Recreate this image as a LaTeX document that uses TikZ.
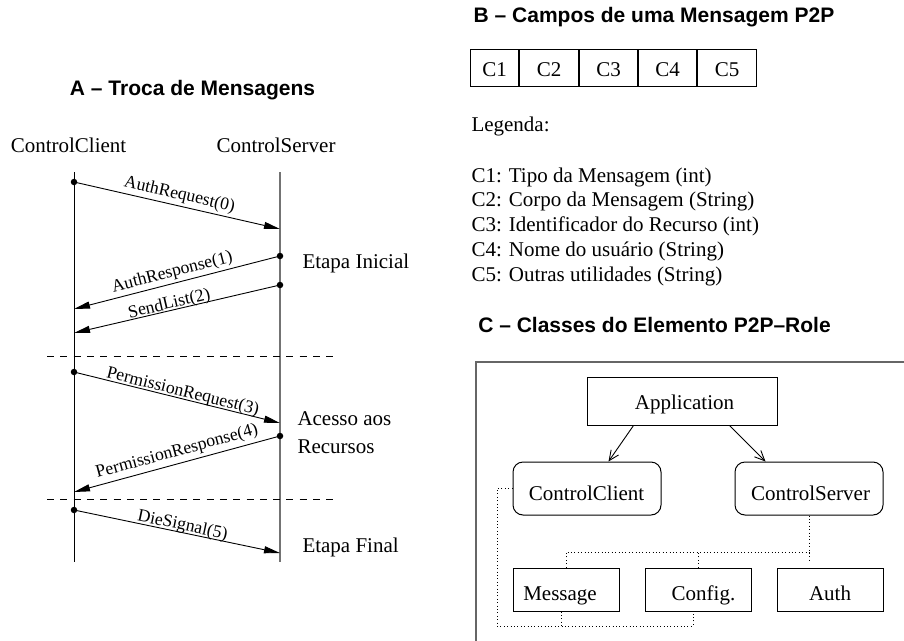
\documentclass[tikz,border=0pt]{standalone}
\usepackage{fontspec}
\setmainfont{Liberation Serif}
\newfontfamily\hv{Liberation Sans}
\usetikzlibrary{arrows.meta,calc}
\newcommand\mainsz{\fontsize{21pt}{25pt}\selectfont}
\newcommand\lblsz{\fontsize{17.7pt}{21pt}\selectfont}
\begin{document}
\begin{tikzpicture}[x=1pt,y=-1pt,line width=1pt,
  every node/.style={font=\mainsz, inner sep=0pt},
  ttl/.style={font=\hv\bfseries\mainsz},
  msg/.style={-{Triangle[length=16pt,width=7pt]}, line width=0.9pt},
  mlabel/.style={font=\lblsz, sloped, text depth=0pt, inner sep=0pt},
  sepline/.style={dash pattern=on 7pt off 6.3pt, line width=0.9pt},
  lifeserver/.style={draw=black!55, line width=1.6pt},
  dotc/.style={circle, fill, inner sep=0pt, minimum size=6.5pt},
  cell/.style={draw, minimum height=37.5pt, text height=16pt, text depth=0pt, anchor=west},
  cls/.style={draw, inner sep=0pt},
  rcls/.style={draw, rounded corners=10pt, inner sep=0pt},
  dep/.style={dash pattern=on 1pt off 2.4pt, line width=1pt},
  gen/.style={-{Straight Barb[length=10pt,width=9pt]}, line width=0.9pt},
  frame/.style={draw=black!60, line width=1.6pt}
]
\useasboundingbox (0,0) rectangle (904,640);

% ---------------- A ----------------
\node[ttl] (ta) at (192.5,90) {A – Troca de Mensagens};
\node (hc) at (68.5,145) {ControlClient};
\node (hs) at (276,145) {ControlServer};

\coordinate (c0) at (74,172);
\coordinate (c1) at (74,562);
\coordinate (s0) at (280,172);
\coordinate (s1) at (280,562);
\draw (c0) -- (c1);
\draw[lifeserver] (s0) -- (s1);

% messages
\node[dotc] (d0) at (74,182) {};
\coordinate (e0) at (280,229);
\draw[msg] (d0.center) -- node[mlabel, pos=0.5, above=6pt] {AuthRequest(0)} (e0);

\node[dotc] (d1) at (280,256) {};
\coordinate (e1) at (74,309);
\draw[msg] (d1.center) -- node[mlabel, pos=0.51, above=6pt] {AuthResponse(1)} (e1);

\node[dotc] (d2) at (280,285) {};
\coordinate (e2) at (74,333);
\draw[msg] (d2.center) -- node[mlabel, pos=0.53, above=1.5pt] {SendList(2)} (e2);

\coordinate (l1a) at (47,356);
\coordinate (l1b) at (337,356);
\draw[sepline] (l1a) -- (l1b);

\node[dotc] (d3) at (74,372) {};
\coordinate (e3) at (280,423);
\draw[msg] (d3.center) -- node[mlabel, pos=0.52, above=2pt] {PermissionRequest(3)} (e3);

\node[dotc] (d4) at (280,436) {};
\coordinate (e4) at (74,492);
\draw[msg] (d4.center) -- node[mlabel, pos=0.485, above=7pt] {PermissionResponse(4)} (e4);

\coordinate (l2a) at (47,499);
\coordinate (l2b) at (337,499);
\draw[sepline] (l2a) -- (l2b);

\node[dotc] (d5) at (74,510) {};
\coordinate (e5) at (280,553);
\draw[msg] (d5.center) -- node[mlabel, pos=0.52, above=2pt] {DieSignal(5)} (e5);

\node[anchor=west] (st1) at (302,263) {Etapa Inicial};
\node[anchor=west] (st2) at (297,419) {Acesso aos};
\node[anchor=west] (st3) at (297,447) {Recursos};
\node[anchor=west] (st4) at (302,547) {Etapa Final};

% ---------------- B ----------------
\node[ttl] (tb) at (654,17) {B – Campos de uma Mensagem P2P};
\node[cell, minimum width=48pt] (f1) at (470,68) {C1};
\node[cell, minimum width=59pt] (f2) at (f1.east) {C2};
\node[cell, minimum width=58pt] (f3) at (f2.east) {C3};
\node[cell, minimum width=58pt] (f4) at (f3.east) {C4};
\node[cell, minimum width=59pt] (f5) at (f4.east) {C5};

\node[anchor=west] (leg) at (471,126) {Legenda:};
\node[anchor=west] (g1) at (471,177) {C1: Tipo da Mensagem (int)};
\node[anchor=west] (g2) at (471,201.75) {C2: Corpo da Mensagem (String)};
\node[anchor=west] (g3) at (471,226.5) {C3: Identificador do Recurso (int)};
\node[anchor=west] (g4) at (471,251.25) {C4: Nome do usuário (String)};
\node[anchor=west] (g5) at (471,276) {C5: Outras utilidades (String)};

% ---------------- C ----------------
\node[ttl] (tc) at (654.5,325) {C – Classes do Elemento P2P–Role};
\draw[frame] (476,641) -- (476,362) -- (905,362);

\node[cls, minimum width=190pt, minimum height=48pt] (app) at (682,401) {};
\node[rcls, minimum width=148pt, minimum height=53pt] (cc) at (587,488.5) {};
\node[rcls, minimum width=148pt, minimum height=53pt] (cs) at (809,488.5) {};
\node[cls, minimum width=106pt, minimum height=43pt] (msgb) at (566,589.5) {};
\node[cls, minimum width=106pt, minimum height=43pt] (cfg) at (698,589.5) {};
\node[cls, minimum width=106pt, minimum height=43pt] (auth) at (830,589.5) {};

\node[anchor=base] (tapp) at (684.5,409) {Application};
\node[anchor=base] (tcc) at (586.5,500.5) {ControlClient};
\node[anchor=base] (tcs) at (810.5,500.5) {ControlServer};
\node[anchor=base] (tmsg) at (560,600) {Message};
\node[anchor=base] (tcfg) at (703.5,600) {Config.};
\node[anchor=base] (tauth) at (830,600) {Auth};

\draw[gen] ([xshift=47pt]app.south west) -- ([xshift=96pt]cc.north west);
\draw[gen] ([xshift=143pt]app.south west) -- ([xshift=31pt]cs.north west);

\coordinate (bus) at (809,552);
\coordinate (lc) at (497,626);
\draw[dep] (cs.south) -- ([xshift=-21pt,yshift=5pt]auth.north);
\draw[dep] (msgb.north) |- (bus);
\draw[dep] (cfg.north) -- (cfg.north |- bus);
\draw[dep] (cc.west) -| (lc) -| ([xshift=-5pt]cfg.south);
\draw[dep] ([xshift=-5pt]msgb.south) -- ([xshift=-5pt]msgb.south |- lc);
\end{tikzpicture}
\end{document}
